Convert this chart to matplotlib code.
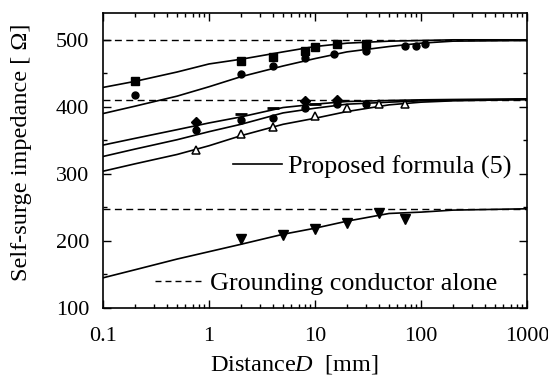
import numpy as np
import matplotlib
matplotlib.use("Agg")
import matplotlib.pyplot as plt
from matplotlib.lines import Line2D
from matplotlib.ticker import LogLocator, MultipleLocator, FixedFormatter, FixedLocator

plt.rcParams['font.family'] = ['Liberation Serif', 'DejaVu Serif']
plt.rcParams['mathtext.fontset'] = 'custom'
plt.rcParams['mathtext.rm'] = 'Liberation Serif'
plt.rcParams['mathtext.it'] = 'Liberation Serif:italic'

# distances [mm] at which the formula curves are read
d_curve = [0.1, 0.2, 0.5, 1, 2, 5, 10, 20, 50, 100, 200, 1000]

# formula (5) curves, upper group
curve_a = [429, 438, 452, 464, 471, 482, 490, 495, 498, 499, 500, 500]
curve_b = [390, 401, 416, 430, 445, 461, 472, 482, 490, 495, 498, 499]
# middle group
curve_c = [343, 353, 366, 376, 385, 399, 404, 408, 409.5, 410.5, 411, 412]
curve_d = [326, 337, 351, 363, 374, 391, 398, 404, 407, 409, 410, 411]
curve_e = [304, 315, 329, 342, 357, 374, 383, 393, 403, 407, 409, 411]
# lower curve
curve_f = [145, 157, 173, 184, 195, 210, 219, 229.5, 241, 243, 246, 248]

# grounding conductor alone
alone = [500, 410, 247]

# measured points
sq_d = [0.2, 2, 4, 8, 10, 16, 30]
sq_z = [438.6, 468.5, 474, 484, 490, 493.5, 493.5]
up_circ_d = [0.2, 2, 4, 8, 15, 30, 70, 90, 110]
up_circ_z = [417.6, 449, 461, 473, 479, 484, 491, 491, 494]

dia_d = [0.75, 8, 16]
dia_z = [377, 408.6, 409.5]
dash_d = [2, 4, 10]
dash_z = [389, 399, 405]
mid_circ_d = [0.75, 2, 4, 8, 16, 30]
mid_circ_z = [365, 380, 384, 398, 404, 405]
tri_d = [0.75, 2, 4, 10, 20, 40, 70]
tri_z = [335, 359, 370, 386, 398, 405, 405]

inv_d = [2, 5, 10, 20, 40, 70]
inv_z = [203, 209, 218, 227, 242, 233]

fig = plt.figure(figsize=(5.48, 3.79), dpi=100)
ax = fig.add_axes([103 / 548, 1 - 308 / 379, 424 / 548, 295 / 379])

dash_style = (0, (5, 3.2))
for z in alone:
    ax.axhline(z, color='black', lw=1.0, ls=dash_style)

for c in [curve_a, curve_b, curve_c, curve_d, curve_e, curve_f]:
    ax.plot(d_curve, c, color='black', lw=1.2)

ax.plot(sq_d, sq_z, 's', color='black', ms=6, ls='none')
ax.plot(up_circ_d, up_circ_z, 'o', color='black', ms=5, ls='none')
ax.plot(dia_d, dia_z, 'D', color='black', ms=5.5, ls='none')
ax.plot(dash_d, dash_z, '_', color='black', ms=8, mew=2, ls='none')
ax.plot(mid_circ_d, mid_circ_z, 'o', color='black', ms=5, ls='none')
ax.plot(tri_d, tri_z, '^', mfc='white', mec='black', ms=6, mew=1.1, ls='none')
ax.plot(inv_d, inv_z, 'v', color='black', ms=6.5, ls='none')

ax.set_xscale('log')
ax.set_xlim(0.1, 1000)
ax.set_ylim(100, 540)

ax.xaxis.set_major_locator(FixedLocator([0.1, 1, 10, 100, 1000]))
ax.xaxis.set_major_formatter(FixedFormatter(['0.1', '1', '10', '100', '1000']))
ax.xaxis.set_minor_locator(LogLocator(base=10, subs=np.arange(2, 10)))
ax.xaxis.set_minor_formatter(plt.NullFormatter())
ax.yaxis.set_major_locator(MultipleLocator(100))
ax.yaxis.set_minor_locator(MultipleLocator(50))

ax.tick_params(which='both', direction='in', top=True, right=True, width=1.0,
               labelsize=16, colors='black')
ax.tick_params(which='major', length=6)
ax.tick_params(axis='y', which='major', pad=10)
ax.tick_params(axis='x', which='major', pad=14)
ax.tick_params(which='minor', length=3)
for s in ax.spines.values():
    s.set_linewidth(1.2)

ax.set_xlabel('Distance$\\it{D}$  [mm]', fontsize=17.5)
ax.xaxis.set_label_coords(0.45, -0.152)
ax.set_ylabel('Self-surge impedance [ \u03a9]', fontsize=17.5)
ax.yaxis.set_label_coords(-0.167, 0.529)

h1 = Line2D([], [], color='black', lw=1.2)
leg1 = ax.legend([h1], ['Proposed formula (5)'], loc='center left',
                 bbox_to_anchor=(233 / 548, 1 - 167 / 379), bbox_transform=fig.transFigure,
                 frameon=False, fontsize=18.8, handlelength=1.87, handletextpad=0.23,
                 borderpad=0, borderaxespad=0)
ax.add_artist(leg1)
h2 = Line2D([], [], color='black', lw=1.0, ls=(0, (4.3, 2.9)))
ax.legend([h2], ['Grounding conductor alone'], loc='center left',
          bbox_to_anchor=(155 / 548, 1 - 283 / 379), bbox_transform=fig.transFigure,
          frameon=False, fontsize=18.8, handlelength=1.91, handletextpad=0.19,
          borderpad=0, borderaxespad=0)

fig.savefig('out.png', dpi=100)
